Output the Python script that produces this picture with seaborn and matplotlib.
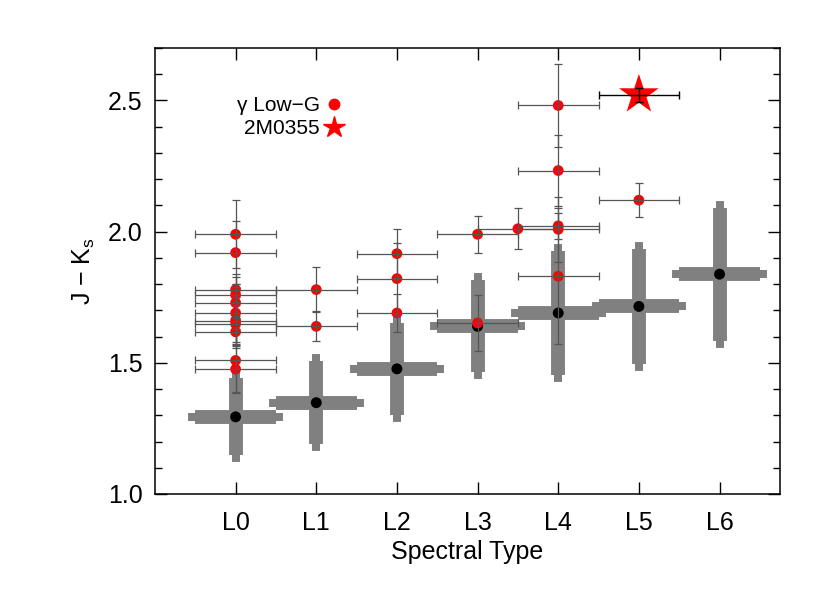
import numpy as np
import pandas as pd
import matplotlib
matplotlib.use('Agg')
import matplotlib.pyplot as plt
from matplotlib.lines import Line2D
from matplotlib.ticker import MultipleLocator, FormatStrFormatter
import seaborn as sns

# field dwarfs: mean J-Ks per spectral type
field_spt = [0, 1, 2, 3, 4, 5, 6]
field_jk = [1.294, 1.348, 1.477, 1.639, 1.690, 1.715, 1.838]
field_jk_err = [0.147, 0.158, 0.175, 0.175, 0.238, 0.220, 0.254]
field_spt_err = [0.5, 0.5, 0.5, 0.5, 0.5, 0.5, 0.5]

# gamma low-gravity objects
lowg_spt = [0, 0, 0, 0, 0, 0, 0, 0, 0, 0, 0,
            1, 1,
            2, 2, 2,
            3, 3,
            3.5,
            4, 4, 4, 4, 4,
            5]
lowg_jk = [1.990, 1.920, 1.779, 1.759, 1.729, 1.690, 1.661, 1.648, 1.618, 1.509, 1.476,
           1.779, 1.639,
           1.916, 1.821, 1.690,
           1.990, 1.652,
           2.011,
           2.481, 2.233, 2.022, 2.009, 1.830,
           2.120]
lowg_jk_err = [0.13, 0.12, 0.06, 0.07, 0.06, 0.11, 0.09, 0.085, 0.06, 0.12, 0.09,
               0.087, 0.057,
               0.093, 0.137, 0.073,
               0.071, 0.107,
               0.078,
               0.157, 0.137, 0.05, 0.124, 0.26,
               0.064]
lowg_spt_err = [0.5] * len(lowg_spt)

# 2MASS J0355+1133
star_spt = [5]
star_jk = [2.522]
star_jk_err = [0.027]
star_spt_err = [0.5]

tick_spt = [0, 1, 2, 3, 4, 5, 6]
tick_names = ['L0', 'L1', 'L2', 'L3', 'L4', 'L5', 'L6']

field = pd.DataFrame({'spt': field_spt, 'jk': field_jk})
lowg = pd.DataFrame({'spt': lowg_spt, 'jk': lowg_jk})
star = pd.DataFrame({'spt': star_spt, 'jk': star_jk})

sns.set_theme(style='ticks')
plt.rcParams['font.family'] = ['Liberation Sans', 'DejaVu Sans']
plt.rcParams['mathtext.default'] = 'regular'
plt.rcParams['text.color'] = 'black'
plt.rcParams['axes.labelcolor'] = 'black'

fig = plt.figure(figsize=(8.3, 5.93), dpi=100)
ax = fig.add_axes([0.1867, 0.167, 0.7531, 0.752])

# thick grey crosses for the field sequence
ax.errorbar(field_spt, field_jk, xerr=field_spt_err, yerr=field_jk_err, fmt='none',
            ecolor='#808080', elinewidth=10, capsize=2.9, capthick=10, zorder=1)
sns.scatterplot(data=field, x='spt', y='jk', color='black', s=62, linewidth=0,
                edgecolor='none', ax=ax, zorder=2)

sns.scatterplot(data=lowg, x='spt', y='jk', color='red', s=60, linewidth=0,
                edgecolor='none', ax=ax, zorder=3)
ax.errorbar(lowg_spt, lowg_jk, xerr=lowg_spt_err, yerr=lowg_jk_err, fmt='none',
            ecolor='#555555', elinewidth=0.9, capsize=2.9, capthick=0.9, zorder=4)

sns.scatterplot(data=star, x='spt', y='jk', color='red', marker='*', s=900,
                linewidth=0, edgecolor='none', ax=ax, zorder=3)
ax.errorbar(star_spt, star_jk, xerr=star_spt_err, yerr=star_jk_err, fmt='none',
            ecolor='black', elinewidth=1.0, capsize=2.9, capthick=1.0, zorder=4)

ax.set_xlim(-1.0, 6.75)
ax.set_ylim(1.0, 2.7)
ax.set_xticks(tick_spt)
ax.set_xticklabels(tick_names)
ax.yaxis.set_major_locator(MultipleLocator(0.5))
ax.yaxis.set_minor_locator(MultipleLocator(0.1))
ax.yaxis.set_major_formatter(FormatStrFormatter('%.1f'))

ax.tick_params(axis='both', which='both', direction='in', top=True, right=True,
               colors='black', width=1.0)
ax.tick_params(axis='both', which='major', length=8.6, labelsize=18, pad=9)
ax.tick_params(axis='x', which='major', pad=12)
ax.tick_params(axis='y', which='minor', length=5)
for sp in ax.spines.values():
    sp.set_linewidth(1.1)
    sp.set_color('black')

ax.set_xlabel('Spectral Type', fontsize=18, labelpad=4)
ax.set_ylabel('J − K$_{s}$', fontsize=18, labelpad=8)

handles = [Line2D([], [], linestyle='none', marker='o', color='red', markersize=7.5),
           Line2D([], [], linestyle='none', marker='*', color='red', markersize=16)]
ax.legend(handles, ['γ Low−G', '2M0355'], loc='center right', bbox_to_anchor=(0.30, 0.845),
          frameon=False, markerfirst=False, fontsize=15, handlelength=0.8,
          handletextpad=0.3, labelspacing=0.2, borderpad=0, borderaxespad=0)

fig.savefig('out.png', dpi=100)
